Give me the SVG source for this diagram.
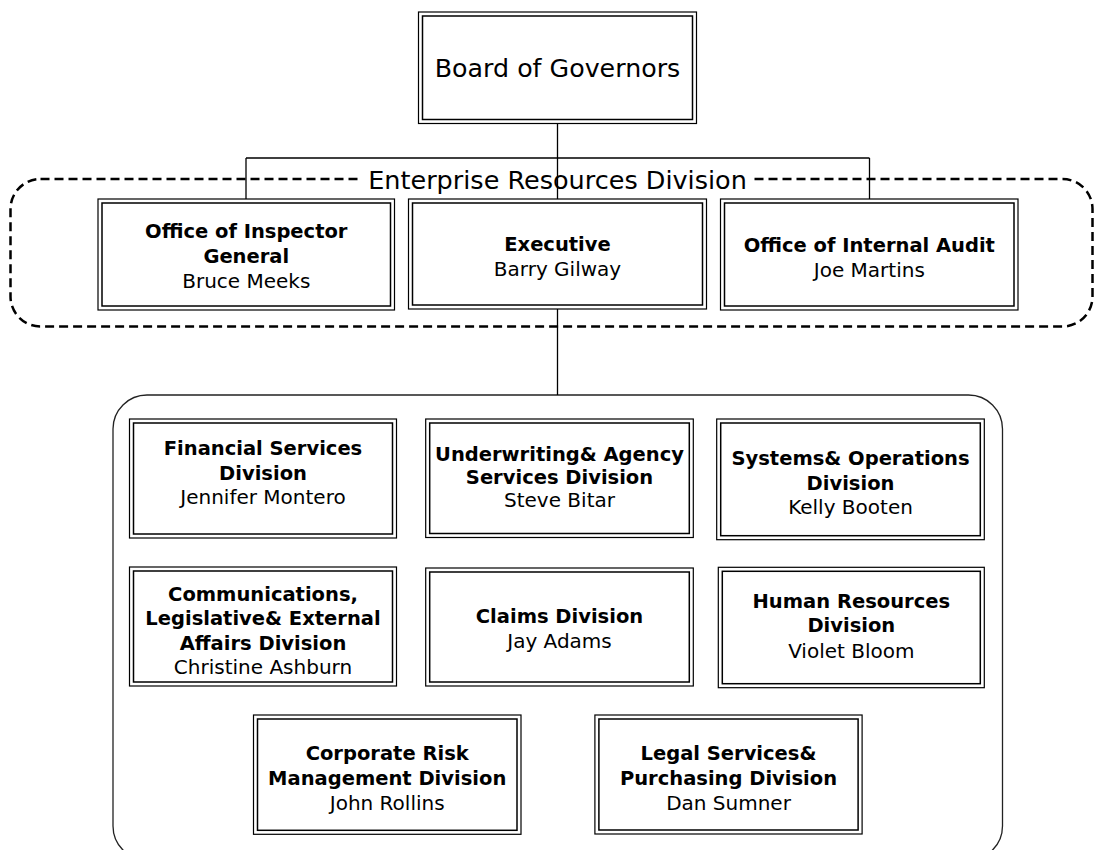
<svg xmlns="http://www.w3.org/2000/svg" width="1095" height="850" viewBox="0 0 1095 850">
<style>
.o{fill:#fff;stroke:#000;stroke-width:1.2}
.i{fill:none;stroke:#000;stroke-width:1.5}
.t{font-family:"DejaVu Sans",Verdana,sans-serif;text-anchor:middle;fill:#000}
.b{font-weight:bold;font-size:19.5px}
.n{font-size:20px}
.c{fill:none;stroke:#000;stroke-width:1.3}
.dash{fill:none;stroke:#000;stroke-width:2.5;stroke-dasharray:9 5}
.cont{fill:none;stroke:#222;stroke-width:1.3}
</style>
<rect width="1095" height="850" fill="#fff"/>
<g id="enterprise-group">
<rect class="dash" x="10.5" y="179" width="1082" height="147.5" rx="30"/>
<rect x="362" y="170" width="391" height="25" fill="#fff"/>
<text class="t" x="557.5" y="188.5" font-size="25.5">Enterprise Resources Division</text>
</g>
<g id="divisions-group">
<rect class="cont" x="113" y="395" width="889.5" height="465" rx="34"/>
</g>
<g id="connectors">
<path class="c" d="M557.5 123.5V158M246 158H869.5M246 158V199M557.5 158V199M869.5 158V199M557.5 309V395"/>
</g>
<g id="board">
<rect class="o" x="418.5" y="12" width="278" height="111.5"/>
<rect class="i" x="422.5" y="16" width="270" height="103.5"/>
<text class="t" x="557.5" y="77" font-size="25.3">Board of Governors</text>
</g>
<g id="oig">
<rect class="o" x="98" y="199" width="296.5" height="111"/>
<rect class="i" x="102" y="203" width="288.5" height="103"/>
<text class="t"><tspan class="b" x="246.3" y="238">Office of Inspector</tspan><tspan class="b" x="246.3" y="263">General</tspan><tspan class="n" x="246.3" y="288">Bruce Meeks</tspan></text>
</g>
<g id="executive">
<rect class="o" x="408.5" y="199" width="298" height="110"/>
<rect class="i" x="412.5" y="203" width="290" height="102"/>
<text class="t"><tspan class="b" x="557.5" y="251">Executive</tspan><tspan class="n" x="557.5" y="276">Barry Gilway</tspan></text>
</g>
<g id="audit">
<rect class="o" x="720.5" y="199" width="297.5" height="111"/>
<rect class="i" x="724.5" y="203" width="289.5" height="103"/>
<text class="t"><tspan class="b" x="869.3" y="251.5">Office of Internal Audit</tspan><tspan class="n" x="869.3" y="276.5">Joe Martins</tspan></text>
</g>
<g id="financial">
<rect class="o" x="129.5" y="419" width="267" height="119"/>
<rect class="i" x="133.5" y="423" width="259" height="111"/>
<text class="t"><tspan class="b" x="263" y="455">Financial Services</tspan><tspan class="b" x="263" y="480">Division</tspan><tspan class="n" x="263" y="504">Jennifer Montero</tspan></text>
</g>
<g id="underwriting">
<rect class="o" x="425.7" y="419" width="267.6" height="118.5"/>
<rect class="i" x="429.7" y="423" width="259.6" height="110.5"/>
<text class="t"><tspan class="b" x="559.5" y="461">Underwriting&amp; Agency</tspan><tspan class="b" x="559.5" y="484">Services Division</tspan><tspan class="n" x="559.5" y="507">Steve Bitar</tspan></text>
</g>
<g id="systems">
<rect class="o" x="716.7" y="419" width="267.6" height="120.7"/>
<rect class="i" x="720.7" y="423" width="259.6" height="112.7"/>
<text class="t"><tspan class="b" x="850.5" y="465">Systems&amp; Operations</tspan><tspan class="b" x="850.5" y="490">Division</tspan><tspan class="n" x="850.5" y="514">Kelly Booten</tspan></text>
</g>
<g id="communications">
<rect class="o" x="129.5" y="567" width="267" height="119"/>
<rect class="i" x="133.5" y="571" width="259" height="111"/>
<text class="t"><tspan class="b" x="263" y="601">Communications,</tspan><tspan class="b" x="263" y="625">Legislative&amp; External</tspan><tspan class="b" x="263" y="650">Affairs Division</tspan><tspan class="n" x="263" y="674">Christine Ashburn</tspan></text>
</g>
<g id="claims">
<rect class="o" x="425.7" y="568" width="267.6" height="118"/>
<rect class="i" x="429.7" y="572" width="259.6" height="110"/>
<text class="t"><tspan class="b" x="559.5" y="623">Claims Division</tspan><tspan class="n" x="559.5" y="648">Jay Adams</tspan></text>
</g>
<g id="hr">
<rect class="o" x="718.3" y="567.3" width="266" height="120.4"/>
<rect class="i" x="722.3" y="571.3" width="258" height="112.4"/>
<text class="t"><tspan class="b" x="851.3" y="608">Human Resources</tspan><tspan class="b" x="851.3" y="632">Division</tspan><tspan class="n" x="851.3" y="658">Violet Bloom</tspan></text>
</g>
<g id="corporate-risk">
<rect class="o" x="253.5" y="715" width="267.5" height="119.3"/>
<rect class="i" x="257.5" y="719" width="259.5" height="111.3"/>
<text class="t"><tspan class="b" x="387.2" y="760">Corporate Risk</tspan><tspan class="b" x="387.2" y="785">Management Division</tspan><tspan class="n" x="387.2" y="810">John Rollins</tspan></text>
</g>
<g id="legal">
<rect class="o" x="594.9" y="715" width="267.2" height="119"/>
<rect class="i" x="598.9" y="719" width="259.2" height="111"/>
<text class="t"><tspan class="b" x="728.5" y="760">Legal Services&amp;</tspan><tspan class="b" x="728.5" y="785">Purchasing Division</tspan><tspan class="n" x="728.5" y="810">Dan Sumner</tspan></text>
</g>
</svg>
